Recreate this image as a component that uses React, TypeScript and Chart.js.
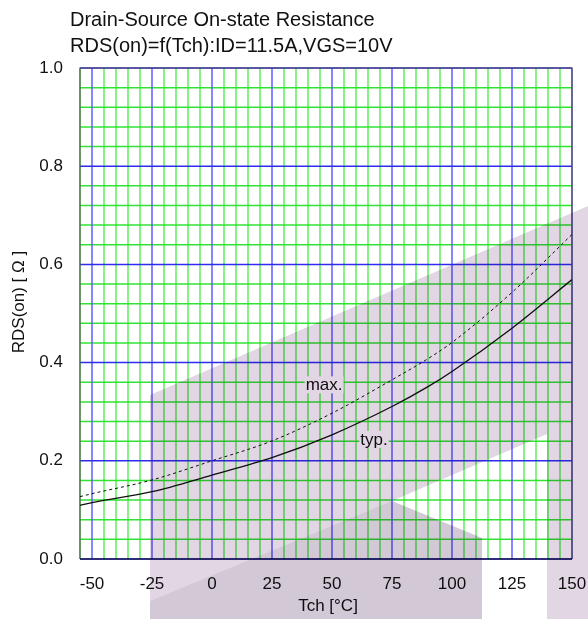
import React, { useEffect, useRef } from "react";
import { Chart, registerables } from "chart.js";

Chart.register(...registerables);

// Channel temperature (°C) and on-state resistance (Ω)
const temperatures = [-55, -50, -25, 0, 25, 50, 75, 90, 100, 125, 150];
const rdsTyp = [0.109, 0.115, 0.137, 0.171, 0.2065, 0.253, 0.3105, 0.351, 0.382, 0.47, 0.569];
const rdsMax = [0.127, 0.133, 0.161, 0.2, 0.2406, 0.297, 0.365, 0.408, 0.441, 0.543, 0.661];

// Axis ranges, grid divisions and labelled ticks
const xRange = [-55, 150];
const xMinorStep = 5;
const xMajorTicks = [-50, -25, 0, 25, 50, 75, 100, 125, 150];
const yRange = [0, 1];
const yMinorStep = 0.04;
const yMajorTicks = [0, 0.2, 0.4, 0.6, 0.8, 1.0];

const titleLines = ["Drain-Source On-state Resistance", "RDS(on)=f(Tch):ID=11.5A,VGS=10V"];
const xAxisTitle = "Tch [°C]";
const yAxisTitle = "RDS(on) [ Ω ]";

// Curve captions, anchored in data coordinates (centre x, baseline y)
const captionText = ["max.", "typ."];
const captionX = [46.7, 67.5];
const captionY = [0.3435, 0.2324];

const FONT = '"Liberation Sans", Arial, sans-serif';
const V_BLUE = "rgb(95, 95, 255)";
const V_GREEN = "rgb(95, 238, 95)";
const H_BLUE = "rgb(45, 45, 238)";
const H_GREEN = "rgb(50, 228, 50)";

const near = (a: number, b: number) => Math.abs(a - b) < 1e-6;
const isMajorX = (v: number) => xMajorTicks.some((t) => near(t, v));
const isMajorY = (v: number) => yMajorTicks.some((t) => near(t, v));

function gridValues(min: number, max: number, step: number) {
  const out: number[] = [];
  const n = Math.round((max - min) / step);
  for (let i = 0; i <= n; i++) out.push(+(min + i * step).toFixed(6));
  return out;
}

const xGrid = gridValues(xRange[0], xRange[1], xMinorStep);
const yGrid = gridValues(yRange[0], yRange[1], yMinorStep);

const decorPlugin = {
  id: "decor",
  beforeDatasetsDraw(chart: any) {
    const { ctx, chartArea: a } = chart;
    const xs = chart.scales.x;
    const ys = chart.scales.y;
    ctx.save();
    ctx.lineWidth = 1.5;
    // graph-paper grid: minor lines first, majors on top
    for (const major of [false, true]) {
      ctx.strokeStyle = major ? V_BLUE : V_GREEN;
      ctx.beginPath();
      xGrid.forEach((v) => {
        if (isMajorX(v) !== major) return;
        const px = xs.getPixelForValue(v);
        ctx.moveTo(px, a.top);
        ctx.lineTo(px, a.bottom);
      });
      ctx.stroke();
      ctx.strokeStyle = major ? H_BLUE : H_GREEN;
      ctx.beginPath();
      yGrid.forEach((v) => {
        if (isMajorY(v) !== major) return;
        const py = ys.getPixelForValue(v);
        ctx.moveTo(a.left, py);
        ctx.lineTo(a.right, py);
      });
      ctx.stroke();
    }
    // plot frame
    ctx.lineWidth = 1.2;
    ctx.strokeStyle = "#555";
    ctx.beginPath();
    ctx.moveTo(a.left, a.bottom);
    ctx.lineTo(a.left, a.top);
    ctx.lineTo(a.right, a.top);
    ctx.lineTo(a.right, a.bottom);
    ctx.stroke();
    ctx.strokeStyle = "#000";
    ctx.beginPath();
    ctx.moveTo(a.left, a.bottom);
    ctx.lineTo(a.right, a.bottom);
    ctx.stroke();
    ctx.restore();
  },
  afterDatasetsDraw(chart: any) {
    const { ctx } = chart;
    const xs = chart.scales.x;
    const ys = chart.scales.y;
    ctx.save();
    ctx.font = `17px ${FONT}`;
    ctx.textAlign = "center";
    ctx.textBaseline = "alphabetic";
    captionText.forEach((t, i) => {
      const px = xs.getPixelForValue(captionX[i]);
      const py = ys.getPixelForValue(captionY[i]);
      const w = ctx.measureText(t).width;
      ctx.fillStyle = "#fff";
      ctx.fillRect(px - w / 2 - 1, py - 14, w + 2, 17);
      ctx.fillStyle = "#111";
      ctx.fillText(t, px, py);
    });
    ctx.restore();
  },
  afterDraw(chart: any) {
    const { ctx, chartArea: a } = chart;
    ctx.save();
    ctx.fillStyle = "#111";
    ctx.font = `20px ${FONT}`;
    ctx.textAlign = "left";
    ctx.textBaseline = "alphabetic";
    ctx.fillText(titleLines[0], 70, 26);
    ctx.fillText(titleLines[1], 70, 52);

    ctx.font = `17px ${FONT}`;
    ctx.textAlign = "center";
    ctx.fillText(xAxisTitle, (a.left + a.right) / 2 + 2, 611);
    ctx.translate(24, 302);
    ctx.rotate(-Math.PI / 2);
    ctx.fillText(yAxisTitle, 0, 0);
    ctx.restore();

    // faint logo watermark laid over the sheet
    const lowerBlock = () => {
      ctx.moveTo(150, 601);
      ctx.lineTo(392, 501);
      ctx.lineTo(482, 538);
      ctx.lineTo(482, 619);
      ctx.lineTo(150, 619);
      ctx.closePath();
    };
    ctx.save();
    ctx.globalCompositeOperation = "multiply";
    ctx.beginPath();
    ctx.moveTo(150, 395);
    ctx.lineTo(588, 206);
    ctx.lineTo(588, 619);
    ctx.lineTo(150, 619);
    ctx.closePath();
    ctx.moveTo(392, 501);
    ctx.lineTo(547, 434);
    ctx.lineTo(547, 619);
    ctx.lineTo(482, 619);
    ctx.lineTo(482, 538);
    ctx.closePath();
    lowerBlock();
    ctx.fillStyle = "rgb(226, 214, 228)";
    ctx.fill("evenodd");
    ctx.beginPath();
    lowerBlock();
    ctx.fillStyle = "rgb(210, 200, 214)";
    ctx.fill();
    ctx.restore();
  },
};

export default function App() {
  const canvasRef = useRef<HTMLCanvasElement | null>(null);

  useEffect(() => {
    const canvas = canvasRef.current;
    if (!canvas) return;

    const chart = new Chart(canvas, {
      type: "line",
      data: {
        datasets: [
          {
            label: "max.",
            data: temperatures.map((t, i) => ({ x: t, y: rdsMax[i] })),
            borderColor: "#111",
            borderWidth: 1,
            borderDash: [3, 3],
            pointRadius: 0,
            cubicInterpolationMode: "monotone",
            fill: false,
          },
          {
            label: "typ.",
            data: temperatures.map((t, i) => ({ x: t, y: rdsTyp[i] })),
            borderColor: "#111",
            borderWidth: 1.3,
            pointRadius: 0,
            cubicInterpolationMode: "monotone",
            fill: false,
          },
        ],
      },
      options: {
        responsive: false,
        animation: false,
        devicePixelRatio: 1,
        layout: { padding: { left: 0, top: 68, right: 16, bottom: 0 } },
        plugins: { legend: { display: false }, title: { display: false }, tooltip: { enabled: false } },
        scales: {
          x: {
            type: "linear",
            min: xRange[0],
            max: xRange[1],
            afterBuildTicks: (s: any) => {
              s.ticks = xGrid.map((v) => ({ value: v }));
            },
            afterFit: (s: any) => {
              s.height = 60;
              s.paddingLeft = 0;
              s.paddingRight = 0;
            },
            border: { display: false },
            grid: { display: false, drawTicks: false },
            ticks: {
              autoSkip: false,
              maxRotation: 0,
              padding: 15,
              color: "#111",
              font: { family: FONT, size: 17 },
              callback: (v: any) => (isMajorX(Number(v)) ? String(Math.round(Number(v))) : ""),
            },
          },
          y: {
            type: "linear",
            min: yRange[0],
            max: yRange[1],
            afterBuildTicks: (s: any) => {
              s.ticks = yGrid.map((v) => ({ value: v }));
            },
            afterFit: (s: any) => {
              s.width = 80;
              s.paddingTop = 0;
              s.paddingBottom = 0;
            },
            border: { display: false },
            grid: { display: false, drawTicks: false },
            ticks: {
              autoSkip: false,
              padding: 17,
              color: "#111",
              font: { family: FONT, size: 17 },
              callback: (v: any) => (isMajorY(Number(v)) ? Number(v).toFixed(1) : ""),
            },
          },
        },
      },
      plugins: [decorPlugin],
    });
    return () => chart.destroy();
  }, []);

  return (
    <div style={{ position: "fixed", left: 0, top: 0, width: 588, height: 619, background: "#fff" }}>
      <canvas ref={canvasRef} width={588} height={619} style={{ display: "block", width: 588, height: 619 }} />
    </div>
  );
}
